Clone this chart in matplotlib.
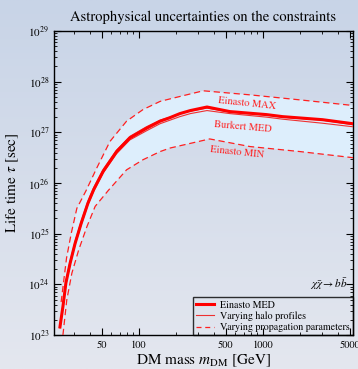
import numpy as np
import matplotlib
matplotlib.use("Agg")
import matplotlib.pyplot as plt
from matplotlib.ticker import FixedLocator, NullFormatter

# DM mass [GeV] and log10 of life time [sec]
med_mass = [23.1, 24.4, 25.8, 27.9, 30.6, 34.3, 38.8, 43.2, 51.5, 66.1, 84.5, 115, 148, 178,
            214, 260, 354, 540, 1070, 1440, 3020, 5320]
med_logtau = [23.16, 23.56, 24.03, 24.42, 24.81, 25.21, 25.60, 25.87, 26.23, 26.62, 26.89, 27.08,
              27.22, 27.29, 27.37, 27.43, 27.5, 27.41, 27.35, 27.31, 27.25, 27.17]
burkert_logtau = [23.14, 23.54, 24.0, 24.39, 24.78, 25.18, 25.57, 25.84, 26.2, 26.58, 26.85, 27.03,
                  27.17, 27.24, 27.31, 27.37, 27.43, 27.37, 27.3, 27.26, 27.18, 27.11]
other_logtau = [23.18, 23.59, 24.07, 24.46, 24.85, 25.25, 25.64, 25.91, 26.27, 26.65, 26.92, 27.11,
                27.24, 27.3, 27.37, 27.42, 27.48, 27.4, 27.34, 27.3, 27.24, 27.15]

max_mass = [23.6, 26.1, 28.5, 31.6, 37.5, 45.6, 58.4, 79.5, 108, 148, 178, 330, 785, 2000, 5320]
max_logtau = [23.65, 24.52, 25.01, 25.50, 25.85, 26.29, 26.82, 27.22, 27.45, 27.61, 27.66, 27.82,
              27.74, 27.64, 27.53]

min_mass = [24.4, 26.2, 28.8, 32.7, 38.1, 44.4, 56.5, 79.5, 108, 148, 178, 372, 785, 2000, 5320]
min_logtau = [23.0, 23.69, 24.22, 24.68, 25.14, 25.54, 25.85, 26.26, 26.46, 26.62, 26.69, 26.87,
              26.72, 26.62, 26.5]

x_major = [50, 100, 500, 1000, 5000]
x_minor = [30, 40, 60, 70, 80, 90, 200, 300, 400, 600, 700, 800, 900, 2000, 3000, 4000]

plt.rcParams['font.family'] = ['STIXGeneral', 'DejaVu Serif']
plt.rcParams['mathtext.fontset'] = 'stix'

fig = plt.figure(figsize=(3.58, 3.69), dpi=100)

# background gradient
bg = fig.add_axes([0, 0, 1, 1], zorder=-10)
grad = np.linspace(0, 1, 256).reshape(-1, 1)
top = np.array([200, 212, 231]) / 255
bot = np.array([228, 231, 239]) / 255
img = top + (bot - top) * grad[:, :, None]
bg.imshow(img, aspect='auto', extent=[0, 1, 0, 1])
bg.axis('off')

ax = fig.add_axes([0.151, 0.092, 0.835, 0.824])
ax.set_facecolor('none')

tau = lambda v: 10.0 ** np.array(v)

band_x = list(max_mass) + list(min_mass[::-1])
band_y = list(tau(max_logtau)) + list(tau(min_logtau[::-1]))
ax.fill(band_x, band_y, color='#ddeefc', lw=0, zorder=1)

ax.plot(max_mass, tau(max_logtau), color='#ff2020', lw=0.9, ls=(0, (5, 3)), zorder=3)
ax.plot(min_mass, tau(min_logtau), color='#ff2020', lw=0.9, ls=(0, (5, 3)), zorder=3)
ax.plot(med_mass, tau(burkert_logtau), color='#ee3030', lw=0.8, zorder=3)
ax.plot(med_mass, tau(other_logtau), color='#ee3030', lw=0.8, zorder=3)
ax.plot(med_mass, tau(med_logtau), color='#ff0000', lw=2.2, zorder=4)

ax.set_xscale('log')
ax.set_yscale('log')
ax.set_xlim(20.7, 5320)
ax.set_ylim(1e23, 1e29)

ax.xaxis.set_major_locator(FixedLocator(x_major))
ax.xaxis.set_minor_locator(FixedLocator(x_minor))
ax.xaxis.set_major_formatter(plt.FuncFormatter(lambda v, p: f"{int(v)}"))
ax.xaxis.set_minor_formatter(NullFormatter())
ax.set_yticks([10.0 ** k for k in range(23, 30)])
ax.set_yticklabels([rf"$10^{{{k}}}$" for k in range(23, 30)])
ax.tick_params(which='both', direction='in', top=True, right=True, labelsize=8)
ax.tick_params(axis='x', labelsize=7.5)
ax.tick_params(which='major', length=5, width=0.8)
ax.tick_params(which='minor', length=2.5, width=0.6)
for s in ax.spines.values():
    s.set_linewidth(1.0)

ax.set_title('Astrophysical uncertainties on the constraints', fontsize=10.5, pad=7)
ax.set_xlabel(r'DM mass $m_{\rm DM}$ [GeV]', fontsize=11, labelpad=2)
ax.set_ylabel(r'Life time $\tau$ [sec]', fontsize=11, labelpad=5)

ax.text(0.645, 0.762, 'Einasto MAX', transform=ax.transAxes, color='#ff2020',
        fontsize=7.5, rotation=-6, ha='center', va='center')
ax.text(0.632, 0.684, 'Burkert MED', transform=ax.transAxes, color='#ff2020',
        fontsize=7.5, rotation=-5, ha='center', va='center')
ax.text(0.612, 0.602, 'Einasto MIN', transform=ax.transAxes, color='#ff2020',
        fontsize=7.5, rotation=-6, ha='center', va='center')
ax.text(0.982, 0.168, r'$\chi\bar{\chi} \rightarrow b\bar{b}$', transform=ax.transAxes,
        fontsize=8, ha='right', va='center')

handles = [
    plt.Line2D([], [], color='#ff0000', lw=2.2),
    plt.Line2D([], [], color='#ee3030', lw=0.8),
    plt.Line2D([], [], color='#ff2020', lw=0.9, ls=(0, (4, 3))),
]
leg = ax.legend(handles, ['Einasto MED', 'Varying halo profiles', 'Varying propagation parameters'],
                loc='lower right', fontsize=7.2, frameon=True, fancybox=False,
                borderaxespad=0, handlelength=1.8, borderpad=0.3, labelspacing=0.15,
                handletextpad=0.6)
leg.get_frame().set_edgecolor('black')
leg.get_frame().set_facecolor('none')
leg.get_frame().set_linewidth(1.0)

fig.savefig('out.png', dpi=100)
